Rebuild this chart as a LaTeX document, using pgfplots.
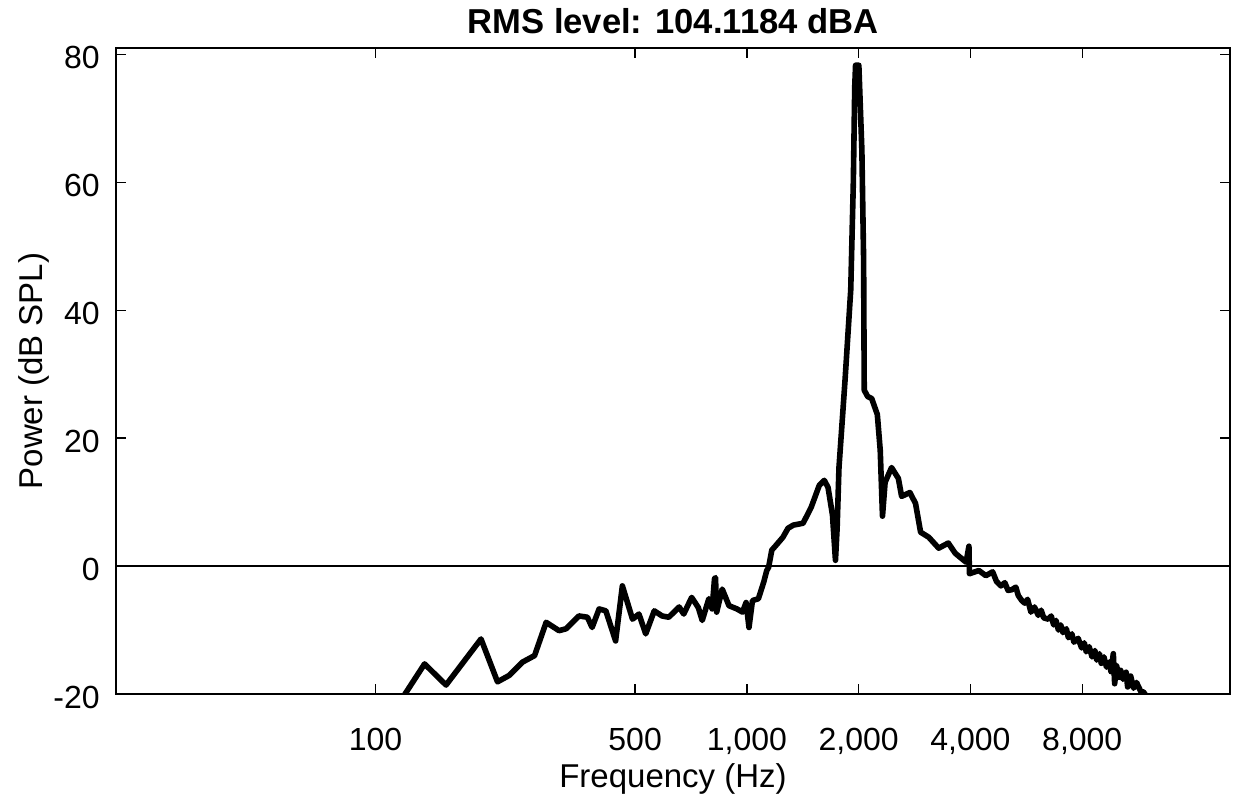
\documentclass[border=0pt]{standalone}
\usepackage{pgfplots}
\pgfplotsset{compat=1.18}
\usepackage{fontspec}
\setmainfont{Liberation Sans}
\usetikzlibrary{calc}

\pgfplotstableread{
f y
117 -21.0
135.5 -15.3
154.8 -18.6
192.3 -11.4
213 -18.1
229 -17.1
249 -15.0
268 -14.0
288 -8.8
312 -10.1
326 -9.8
353 -7.8
372 -8.0
383 -9.6
400 -6.7
417 -7.0
443 -11.7
462 -3.1
492 -8.3
512 -7.5
534 -10.6
563 -7.0
591 -7.8
616 -8.0
657 -6.4
676 -7.5
710 -4.9
740 -6.5
758 -8.5
790 -5.1
806 -6.7
818 -2.0
823 -1.8
829 -7.2
858 -3.6
895 -6.2
940 -6.7
973 -7.2
995 -5.7
1013 -9.6
1035 -5.4
1074 -5.1
1110 -2.5
1131 -0.7
1144 -0.2
1167 2.5
1192 3.1
1250 4.5
1290 5.9
1333 6.4
1417 6.7
1490 9.2
1566 12.6
1616 13.4
1654 12.3
1700 8.0
1732 0.9
1750 6.0
1770 15.4
1839 29.3
1904 43.2
1935 60.0
1952 75.0
1962 78.3
2002 78.3
2040 65.0
2062 48.0
2070 27.5
2115 26.5
2168 26.2
2245 23.7
2286 18.1
2318 7.8
2356 13.1
2452 15.4
2558 13.7
2610 10.9
2747 11.5
2845 9.8
2936 5.3
3089 4.5
3285 2.8
3486 3.6
3640 2.0
3894 0.6
3963 3.1
3975 -1.2
4215 -0.7
4400 -1.5
4590 -0.9
4700 -2.4
4830 -3.1
4950 -2.6
5050 -3.8
5167 -3.7
5300 -3.3
5380 -4.6
5500 -5.4
5600 -5.8
5700 -5.2
5820 -7.2
5950 -6.4
6090 -7.7
6200 -6.9
6300 -8.1
6480 -8.3
6600 -7.8
6700 -9.2
6800 -8.5
6900 -10.0
7000 -9.2
7100 -10.4
7250 -9.8
7340 -11.2
7500 -10.6
7600 -11.9
7800 -11.3
7970 -12.8
8100 -12.0
8200 -13.4
8350 -12.6
8500 -14.2
8650 -13.2
8750 -14.7
8900 -13.7
9000 -15.2
9150 -14.2
9300 -15.8
9450 -15.0
9560 -16.5
9700 -13.7
9780 -18.4
9900 -15.6
10050 -17.4
10150 -16.3
10300 -17.7
10500 -16.6
10600 -18.9
10800 -17.2
11000 -19.1
11200 -18.2
11500 -19.6
11700 -19.7
12100 -21.0
}\spectrum

\begin{document}
\begin{tikzpicture}
\begin{axis}[
  scale only axis,
  width=557pt, height=323pt,
  xmode=log,
  xmin=20, xmax=20000,
  ymin=-20, ymax=81,
  xtick={100,500,1000,2000,4000,8000},
  xticklabels={100,500,{1,000},{2,000},{4,000},{8,000}},
  ytick={-20,0,20,40,60,80},
  yticklabels={-20,0,20,40,60,80},
  minor xtick={},
  minor tick num=0,
  tick align=inside,
  major tick length=5pt,
  axis line style={line width=0.7pt},
  every tick/.style={line width=0.7pt, black},
  tick label style={font=\fontsize{16}{19}\selectfont},
  xticklabel style={anchor=base, inner sep=0pt, yshift=-28.5pt},
  yticklabel style={anchor=east, inner sep=0pt, xshift=-8pt, yshift=-1.5pt},
  xlabel={Frequency (Hz)},
  ylabel={Power (dB SPL)},
  label style={font=\fontsize{16.5}{19}\selectfont, inner sep=0pt},
  xlabel style={at={(axis description cs:0.5,0)}, anchor=center, yshift=-42.5pt},
  ylabel style={at={(axis description cs:-0.0736,0.5)}, anchor=center},
  title={RMS level: 104.1184 dBA},
  title style={at={(axis description cs:0.5,1)}, anchor=center, yshift=7.5pt,
    inner sep=0pt, font=\bfseries\fontsize{17.3}{20}\selectfont},
]
\addplot [black, line width=0.9pt, forget plot] coordinates {(20,0) (20000,0)};
\addplot [black, line width=2.8pt, line join=round] table [x=f, y=y] {\spectrum};
\end{axis}
\pgfresetboundingbox
\useasboundingbox ($(current axis.south west)+(-58pt,-55pt)$) rectangle ($(current axis.north east)+(3.5pt,24pt)$);
\end{tikzpicture}
\end{document}
